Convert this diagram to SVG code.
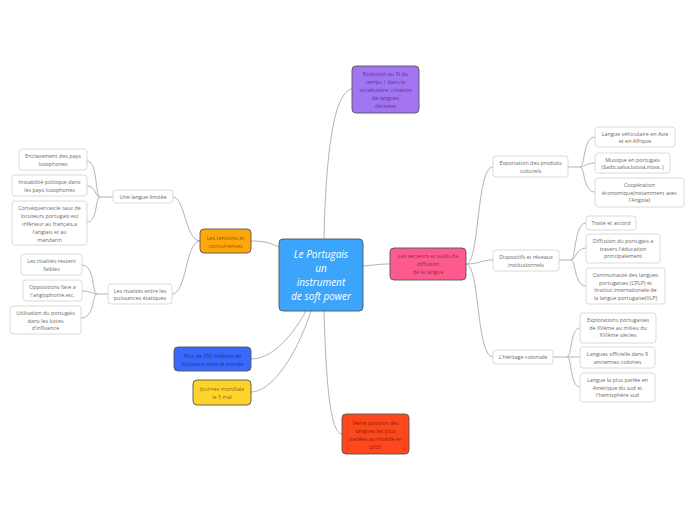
<svg xmlns="http://www.w3.org/2000/svg" width="696" height="520" viewBox="0 0 696 520">
<style>
.c{fill:none;stroke:#b3b3b3;stroke-width:1}
.w rect{fill:#fff;stroke:#d0d0d0;stroke-width:0.8}
.k rect{stroke:#555;stroke-width:0.9}
text{font-family:"Open Sans","Liberation Sans",sans-serif;font-size:5.4px;text-anchor:middle}
.w text{fill:#6a6a6a}
.k text{fill:#000;fill-opacity:0.55}
</style>
<rect width="696" height="520" fill="#fff"/>
<g id="connectors">
<path class="c" d="M324,239 C326,150 334,92 352,89"/>
<path class="c" d="M363,266 C375,265 380,264 390,264"/>
<path class="c" d="M279,247 C268,242 262,241 251,241"/>
<path class="c" d="M306,311 C290,340 270,359 251,359"/>
<path class="c" d="M311,311 C295,360 270,392 251,392"/>
<path class="c" d="M324,311 C326,380 330,434 342,434"/>
<path class="c" d="M200,241 C185,240 185,197 173,197"/>
<path class="c" d="M200,241 C185,242 187,294 172,294"/>
<path class="c" d="M113,197 L100,197 C95,197 98,161 87,161"/>
<path class="c" d="M100,197 C95,197 96,186 87,186"/>
<path class="c" d="M100,197 C95,197 98,222 87,222"/>
<path class="c" d="M108,294 L97,294 C92,294 95,265 82,265"/>
<path class="c" d="M97,294 C92,294 92,291 82,291"/>
<path class="c" d="M97,294 C92,294 95,318 81,318"/>
<path class="c" d="M466,264 C480,264 476,167 493,167"/>
<path class="c" d="M466,264 C480,264 480,260 493,260"/>
<path class="c" d="M466,264 C480,264 476,357 493,357"/>
<path class="c" d="M568,167 L580,167 C585,167 583,137 595,137"/>
<path class="c" d="M580,167 C585,167 586,163 595,163"/>
<path class="c" d="M580,167 C585,167 583,192 595,192"/>
<path class="c" d="M559,260 L571,260 C576,260 574,223 586,223"/>
<path class="c" d="M571,260 C576,260 576,248 586,248"/>
<path class="c" d="M571,260 C576,260 574,286 586,286"/>
<path class="c" d="M553,357 L567,357 C572,357 570,328 580,328"/>
<path class="c" d="M567,357 L580,357"/>
<path class="c" d="M567,357 C572,357 570,387 580,387"/>
</g>
<g id="central" class="k">
<rect x="279" y="239" width="84" height="72" rx="4" fill="#3aa5fb"/>
<text style="font-size:10px;font-style:italic;fill:#fff;fill-opacity:1"><tspan x="321" y="258">Le Portugais</tspan><tspan x="321" y="272">un</tspan><tspan x="321" y="286">instrument</tspan><tspan x="321" y="300">de soft power</tspan></text>
</g>
<g id="evolution" class="k">
<rect x="352" y="66" width="67" height="47" rx="4" fill="#a374f2"/>
<text><tspan x="385.5" y="76">Evolution au fil du</tspan><tspan x="385.5" y="84">temps | dans le</tspan><tspan x="385.5" y="92">vocabulaire ,création</tspan><tspan x="385.5" y="100">de langues</tspan><tspan x="385.5" y="108">dérivées</tspan></text>
</g>
<g id="vecteurs" class="k">
<rect x="390" y="248" width="76" height="32" rx="4" fill="#fd5a8e"/>
<text><tspan x="428" y="258">Les vecteurs et outils de</tspan><tspan x="428" y="266">diffusion</tspan><tspan x="428" y="274">de la langue</tspan></text>
</g>
<g id="tensions" class="k">
<rect x="200" y="229" width="51" height="24" rx="4" fill="#fea70c"/>
<text><tspan x="225.5" y="239.5">Les tensions et</tspan><tspan x="225.5" y="247.5">concurrences</tspan></text>
</g>
<g id="locuteurs" class="k">
<rect x="174" y="347" width="77" height="24" rx="4" fill="#3a68fb"/>
<text><tspan x="212.5" y="357.5">Plus de 250 millions de</tspan><tspan x="212.5" y="365.5">locuteurs dans le monde</tspan></text>
</g>
<g id="journee" class="k">
<rect x="193" y="380" width="58" height="25" rx="4" fill="#fed42a"/>
<text><tspan x="222" y="391">Journée mondiale</tspan><tspan x="222" y="399">le 5 mai</tspan></text>
</g>
<g id="position" class="k">
<rect x="342" y="414" width="67" height="40" rx="4" fill="#fe471a"/>
<text><tspan x="375.5" y="425">9ème position des</tspan><tspan x="375.5" y="433">langues les plus</tspan><tspan x="375.5" y="441">parlées au monde en</tspan><tspan x="375.5" y="449">2021</tspan></text>
</g>
<g id="langue-limitee" class="w">
<rect x="113" y="190" width="60" height="13" rx="3"/>
<text x="143" y="198.8">Une langue limitée</text>
</g>
<g id="enclavement" class="w">
<rect x="19" y="149" width="68" height="21" rx="3"/>
<text><tspan x="53" y="158">Enclavement des pays</tspan><tspan x="53" y="166">lusophones</tspan></text>
</g>
<g id="instabilite" class="w">
<rect x="12" y="175" width="75" height="21" rx="3"/>
<text><tspan x="49.5" y="184">Instabilité politique dans</tspan><tspan x="49.5" y="192">les pays lusophones</tspan></text>
</g>
<g id="consequences" class="w">
<rect x="12" y="201" width="75" height="44" rx="3"/>
<text><tspan x="49.5" y="210">Conséquences:le taux de</tspan><tspan x="49.5" y="218">locuteurs portugais est</tspan><tspan x="49.5" y="226">inférieur au français,a</tspan><tspan x="49.5" y="234">l'anglais et au</tspan><tspan x="49.5" y="242">mandarin</tspan></text>
</g>
<g id="rivalites" class="w">
<rect x="108" y="284" width="64" height="20" rx="3"/>
<text><tspan x="140" y="292.5">Les rivalités entre les</tspan><tspan x="140" y="300">puissances étatiques</tspan></text>
</g>
<g id="rivalites-faibles" class="w">
<rect x="21" y="254" width="61" height="21" rx="3"/>
<text><tspan x="51.5" y="263">Les rivalités restent</tspan><tspan x="51.5" y="271">faibles</tspan></text>
</g>
<g id="oppositions" class="w">
<rect x="23" y="280" width="59" height="21" rx="3"/>
<text><tspan x="52.5" y="289">Oppositions face a</tspan><tspan x="52.5" y="297">l'anglophonie,etc.</tspan></text>
</g>
<g id="utilisation" class="w">
<rect x="10" y="306" width="71" height="28" rx="3"/>
<text><tspan x="45.5" y="315">Utilisation du portugais</tspan><tspan x="45.5" y="322.5">dans les luttes</tspan><tspan x="45.5" y="330">d'influence</tspan></text>
</g>
<g id="exportation" class="w">
<rect x="493" y="156" width="75" height="21" rx="3"/>
<text><tspan x="530.5" y="165">Exportation des produits</tspan><tspan x="530.5" y="173">culturels</tspan></text>
</g>
<g id="vehiculaire" class="w">
<rect x="595" y="127" width="80" height="20" rx="3"/>
<text><tspan x="635" y="135.5">Langue véhiculaire en Asie</tspan><tspan x="635" y="143">et en Afrique</tspan></text>
</g>
<g id="musique" class="w">
<rect x="595" y="153" width="75" height="20" rx="3"/>
<text><tspan x="632.5" y="161.5">Musique en portugais</tspan><tspan x="632.5" y="169">(Sado,salsa,bossa,nova..)</tspan></text>
</g>
<g id="cooperation" class="w">
<rect x="595" y="178" width="89" height="29" rx="3"/>
<text><tspan x="639.5" y="187">Coopération</tspan><tspan x="639.5" y="194.5">économique(notamment avec</tspan><tspan x="639.5" y="202">l'Angola)</tspan></text>
</g>
<g id="dispositifs" class="w">
<rect x="493" y="250" width="66" height="21" rx="3"/>
<text><tspan x="526" y="259">Dispositifs et réseaux</tspan><tspan x="526" y="267">institutionnels</tspan></text>
</g>
<g id="traite" class="w">
<rect x="586" y="216" width="50" height="14" rx="3"/>
<text x="611" y="225">Traité et accord</text>
</g>
<g id="diffusion" class="w">
<rect x="586" y="234" width="74" height="29" rx="3"/>
<text><tspan x="623" y="243">Diffusion du portugais a</tspan><tspan x="623" y="250.5">travers l'éducation</tspan><tspan x="623" y="258">principalement</tspan></text>
</g>
<g id="cplp" class="w">
<rect x="586" y="268" width="79" height="36" rx="3"/>
<text><tspan x="625.5" y="277">Communauté des langues</tspan><tspan x="625.5" y="284.5">portugaises (CPLP) et</tspan><tspan x="625.5" y="292">Institut internationale de</tspan><tspan x="625.5" y="299.5">la langue portugaise(IILP)</tspan></text>
</g>
<g id="heritage" class="w">
<rect x="493" y="350" width="60" height="14" rx="3"/>
<text x="523" y="359">L'héritage coloniale</text>
</g>
<g id="explorations" class="w">
<rect x="580" y="313" width="76" height="30" rx="3"/>
<text><tspan x="618" y="322">Explorations portugaises</tspan><tspan x="618" y="329.5">de XVème au milieu du</tspan><tspan x="618" y="337">XVIème siècles</tspan></text>
</g>
<g id="officielle" class="w">
<rect x="580" y="347" width="75" height="21" rx="3"/>
<text><tspan x="617.5" y="356">Langues officielle dans 9</tspan><tspan x="617.5" y="364">anciennes colonies</tspan></text>
</g>
<g id="plus-parlee" class="w">
<rect x="580" y="373" width="75" height="29" rx="3"/>
<text><tspan x="617.5" y="382">Langue la plus parlée en</tspan><tspan x="617.5" y="389.5">Amérique du sud et</tspan><tspan x="617.5" y="397">l'hemisphère sud</tspan></text>
</g>
</svg>
